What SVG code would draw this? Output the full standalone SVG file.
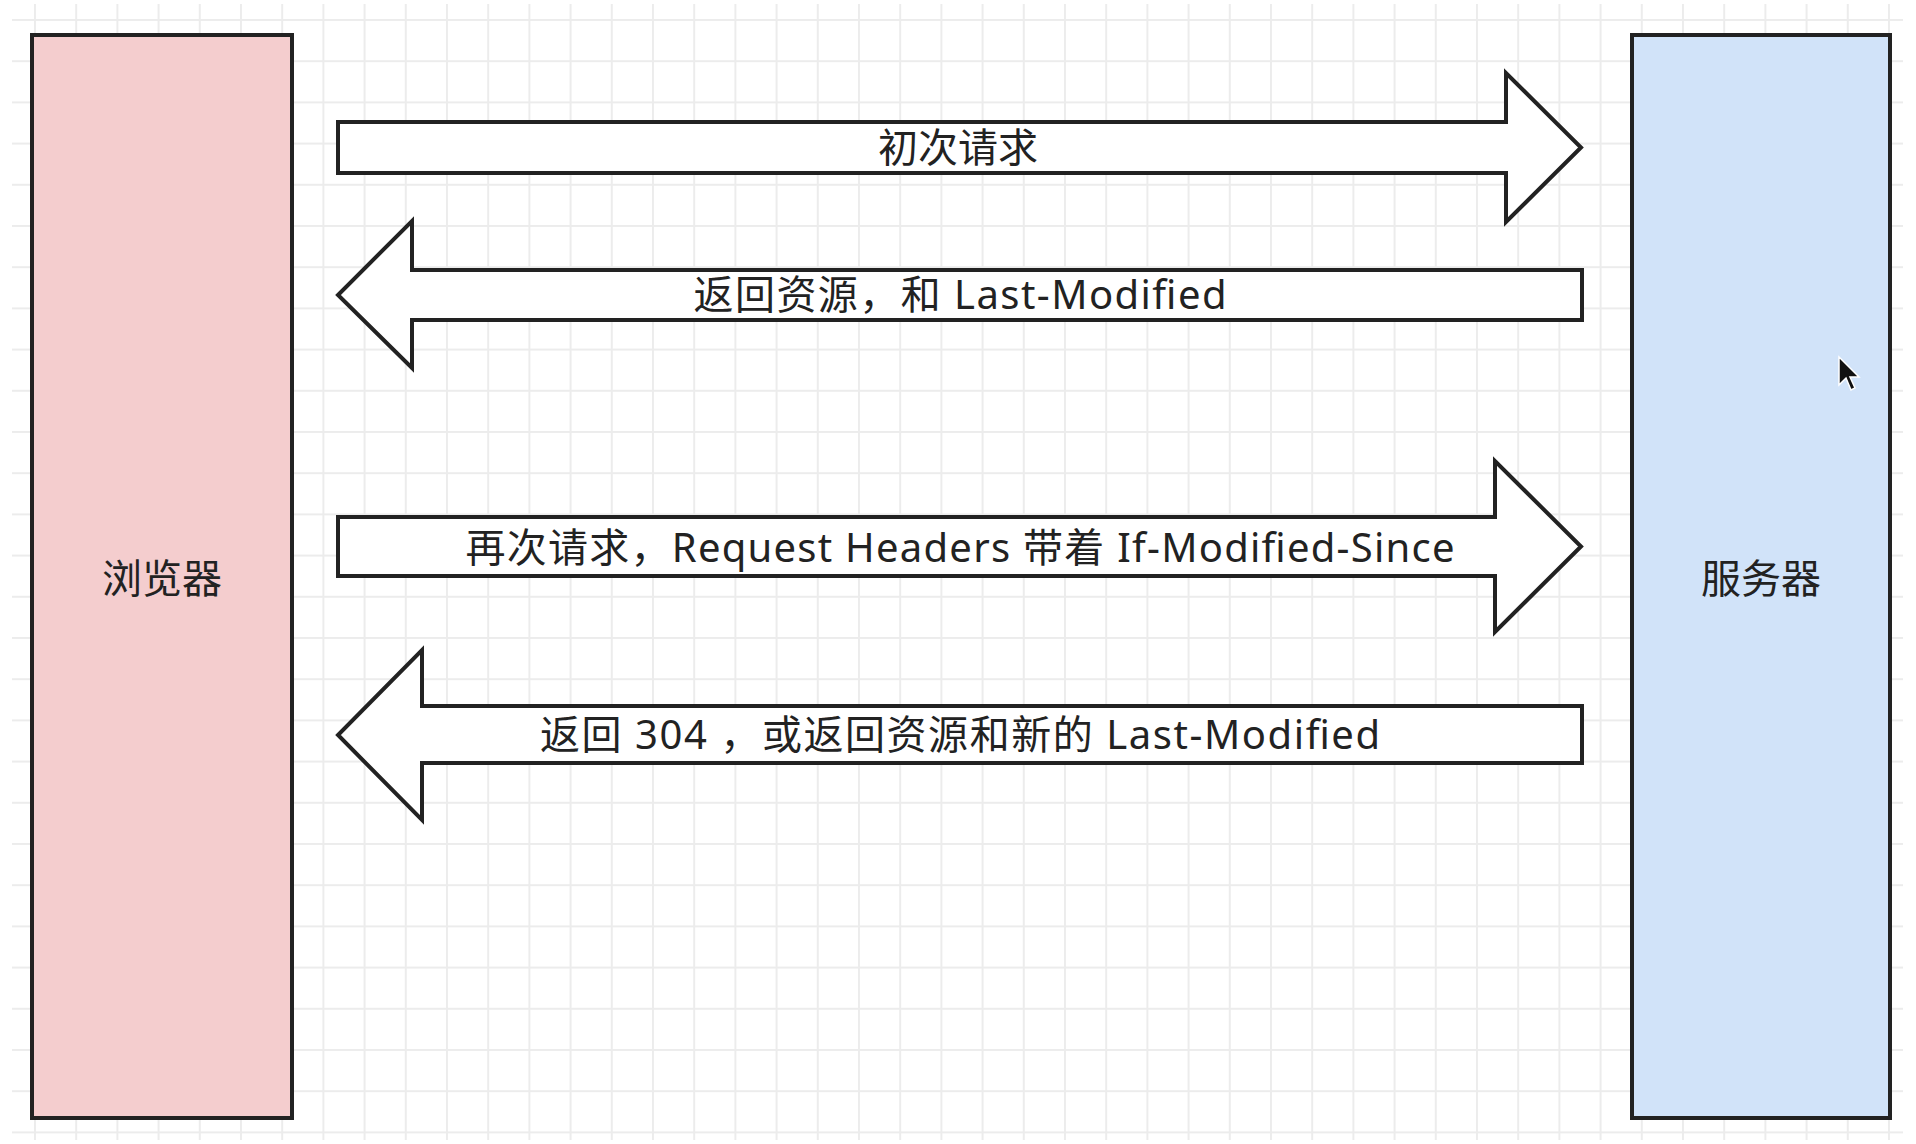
<svg xmlns="http://www.w3.org/2000/svg" width="1916" height="1144" viewBox="0 0 1916 1144">
  <defs>
    <pattern id="grid" patternUnits="userSpaceOnUse" x="34" y="19" width="41.2" height="41.2">
      <path d="M0 1H41.2M1 0V41.2" stroke="#ececec" stroke-width="2" fill="none"/>
    </pattern>
    <style>
      .box { stroke: #222; stroke-width: 4; }
      .arrow { fill: #ffffff; stroke: #222; stroke-width: 4; stroke-linejoin: miter; }
      .lbl { font-family: "Noto Sans", "Noto Sans CJK SC", sans-serif; font-size: 40px; fill: #222; text-anchor: middle; }
    </style>
  </defs>
  <rect x="0" y="0" width="1916" height="1144" fill="#ffffff"/>
  <rect x="12" y="4" width="1891" height="1136" fill="url(#grid)"/>

  <g id="browser">
    <rect class="box" x="32" y="35" width="260" height="1083" fill="#f4cdce"/>
    <text class="lbl" x="162" y="593">浏览器</text>
  </g>
  <g id="server">
    <rect class="box" x="1632" y="35" width="258" height="1083" fill="#d1e3f9"/>
    <text class="lbl" x="1761" y="593">服务器</text>
  </g>

  <g id="connectors">
    <g id="req1">
      <path class="arrow" d="M338 122 H1506 V73 L1581 147.5 L1506 222 V173 H338 Z"/>
      <text class="lbl" x="958" y="162">初次请求</text>
    </g>
    <g id="resp1">
      <path class="arrow" d="M1582 270 H412 V221 L338 295 L412 368 V320 H1582 Z"/>
      <text class="lbl" x="960" y="309" textLength="533" lengthAdjust="spacing">返回资源，和 Last-Modified</text>
    </g>
    <g id="req2">
      <path class="arrow" d="M338 517 H1495 V461 L1581 546.5 L1495 632 V576 H338 Z"/>
      <text class="lbl" x="960" y="562" textLength="989" lengthAdjust="spacing">再次请求，Request Headers 带着 If-Modified-Since</text>
    </g>
    <g id="resp2">
      <path class="arrow" d="M1582 706 H422 V650 L338 735 L422 820 V763 H1582 Z"/>
      <text class="lbl" x="960" y="749" textLength="840" lengthAdjust="spacing">返回 304 ，或返回资源和新的 Last-Modified</text>
    </g>
  </g>

  <g id="cursor">
    <path d="M1839 357 L1839 385 L1846 378 L1851 390 L1855 388 L1850 377 L1859 377 Z" fill="#111" stroke="#fff" stroke-width="1.5"/>
  </g>
</svg>
